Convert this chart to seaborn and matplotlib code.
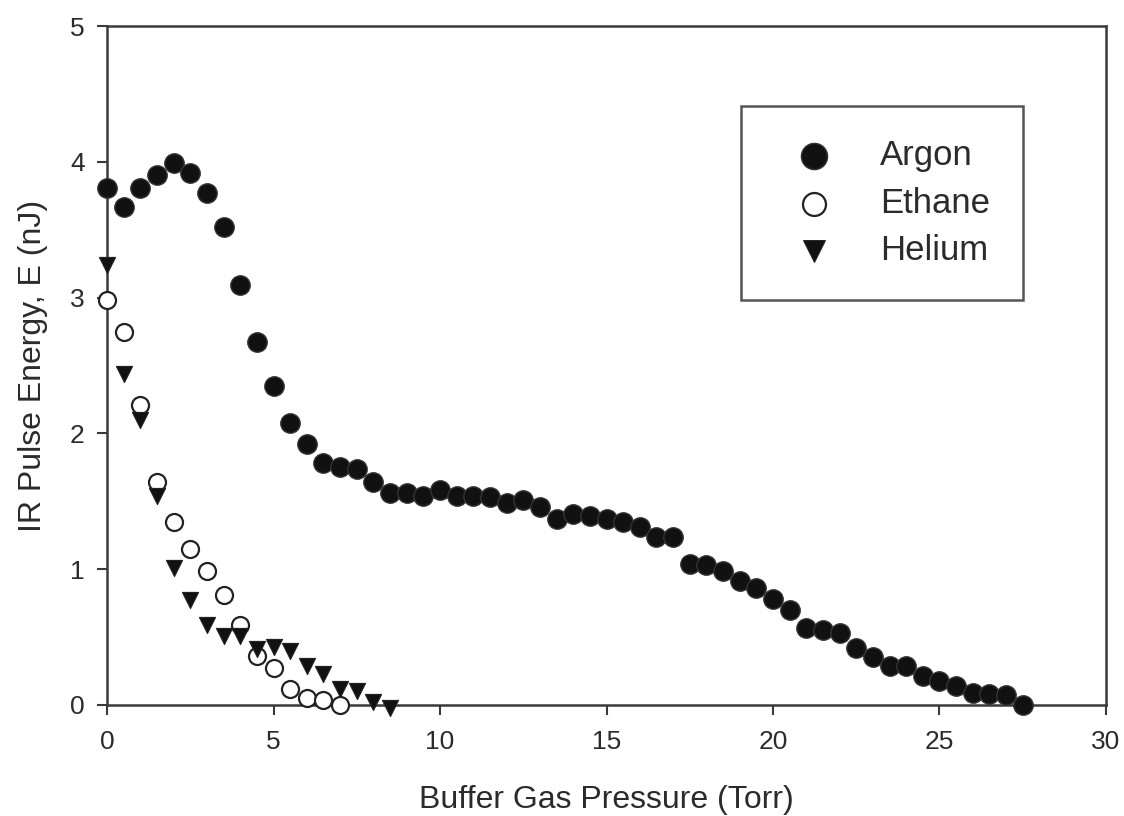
import numpy as np
import pandas as pd
import seaborn as sns
import matplotlib.pyplot as plt

# Data
argon_p = [0.0, 0.5, 1.0, 1.5, 2.0, 2.5, 3.0, 3.5, 4.0, 4.5, 5.0, 5.5, 6.0, 6.5,
           7.0, 7.5, 8.0, 8.5, 9.0, 9.5, 10.0, 10.5, 11.0, 11.5, 12.0, 12.5, 13.0,
           13.5, 14.0, 14.5, 15.0, 15.5, 16.0, 16.5, 17.0, 17.5, 18.0, 18.5, 19.0,
           19.5, 20.0, 20.5, 21.0, 21.5, 22.0, 22.5, 23.0, 23.5, 24.0, 24.5, 25.0,
           25.5, 26.0, 26.5, 27.0, 27.5]
argon_e = [3.81, 3.67, 3.81, 3.90, 3.99, 3.92, 3.77, 3.52, 3.09, 2.67, 2.35, 2.08,
           1.92, 1.78, 1.75, 1.74, 1.64, 1.56, 1.56, 1.54, 1.58, 1.54, 1.54, 1.53,
           1.49, 1.51, 1.46, 1.37, 1.41, 1.39, 1.37, 1.35, 1.31, 1.24, 1.24, 1.04,
           1.03, 0.99, 0.91, 0.86, 0.78, 0.70, 0.57, 0.55, 0.53, 0.42, 0.35, 0.29,
           0.29, 0.21, 0.18, 0.14, 0.09, 0.08, 0.07, 0.0]

ethane_p = [0.0, 0.5, 1.0, 1.5, 2.0, 2.5, 3.0, 3.5, 4.0, 4.5, 5.0, 5.5, 6.0, 6.5, 7.0]
ethane_e = [2.98, 2.75, 2.21, 1.64, 1.35, 1.15, 0.99, 0.81, 0.59, 0.36, 0.27, 0.12,
            0.05, 0.04, 0.0]

helium_p = [0.0, 0.5, 1.0, 1.5, 2.0, 2.5, 3.0, 3.5, 4.0, 4.5, 5.0, 5.5, 6.0, 6.5,
            7.0, 7.5, 8.0, 8.5]
helium_e = [3.24, 2.44, 2.10, 1.54, 1.01, 0.77, 0.59, 0.51, 0.51, 0.41, 0.43, 0.40,
            0.29, 0.23, 0.12, 0.10, 0.02, -0.02]

gases = ["Argon", "Ethane", "Helium"]

df = pd.concat([
    pd.DataFrame({"p": argon_p, "e": argon_e, "gas": "Argon"}),
    pd.DataFrame({"p": ethane_p, "e": ethane_e, "gas": "Ethane"}),
    pd.DataFrame({"p": helium_p, "e": helium_e, "gas": "Helium"}),
])

sns.set_style("ticks")
plt.rcParams['font.family'] = ['Liberation Sans', 'DejaVu Sans']
text_col = '#2b2b2b'
line_col = '#3a3a3a'

fig = plt.figure(figsize=(11.24, 8.16), dpi=100)
ax = fig.add_axes([107 / 1124, 1 - 705 / 816, 999 / 1124, 679 / 816])

styles = {
    "Argon": dict(marker="o", s=195, color="#111111", edgecolor="#333333", linewidth=1.0),
    "Ethane": dict(marker="o", s=150, color="white", edgecolor="#222222", linewidth=1.6),
    "Helium": dict(marker="v", s=135, color="#111111", edgecolor="#222222", linewidth=0.8),
}
for gas in gases:
    sub = df[df["gas"] == gas]
    sns.scatterplot(data=sub, x="p", y="e", ax=ax, label=gas, clip_on=False,
                    zorder=3, **styles[gas])

ax.set_xlim(0, 30)
ax.set_ylim(0, 5)
ax.set_xticks([0, 5, 10, 15, 20, 25, 30])
ax.set_yticks([0, 1, 2, 3, 4, 5])
ax.tick_params(axis='both', direction='out', length=7, width=1.5, color=line_col,
               labelsize=19, labelcolor=text_col)
ax.tick_params(axis='x', pad=11)
ax.tick_params(axis='y', pad=9)
for sp in ax.spines.values():
    sp.set_linewidth(1.8)
    sp.set_color(line_col)

ax.set_xlabel("Buffer Gas Pressure (Torr)", fontsize=23, color=text_col, labelpad=22)
ax.set_ylabel("IR Pulse Energy, E (nJ)", fontsize=23, color=text_col, labelpad=16)

leg = ax.legend(loc='upper left', bbox_to_anchor=(0.6346, 0.882), fontsize=25,
                frameon=True, fancybox=False, edgecolor='#555555', framealpha=1,
                borderpad=0.95, handlelength=2.3, handletextpad=0.75,
                labelspacing=0.42, markerscale=1.35, borderaxespad=0)
leg.get_frame().set_linewidth(1.8)
for t in leg.get_texts():
    t.set_color(text_col)

fig.savefig("out.png", dpi=100)
